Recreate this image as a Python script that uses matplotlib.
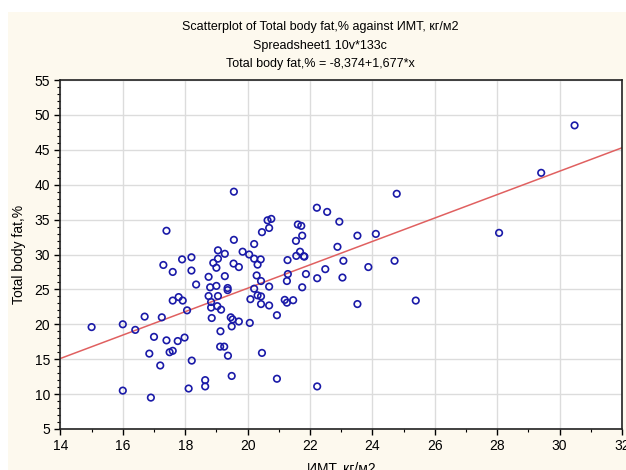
import matplotlib.pyplot as plt
from matplotlib.patches import Rectangle
from matplotlib.ticker import MultipleLocator

# BMI (ИМТ) values
bmi = [15.0, 16.0, 16.0, 16.4, 16.7, 17.25, 17.4, 17.3, 17.6, 17.6,
       17.0, 17.4, 16.85, 17.5, 17.6, 17.2, 16.9, 17.9, 18.2, 18.2,
       18.35, 18.75, 18.8, 19.0, 18.9, 19.0, 19.05, 19.05, 19.27, 19.27,
       19.36, 19.36, 19.55, 19.72, 19.84, 20.05, 20.29, 20.21, 20.09, 20.07,
       18.75, 19.05, 18.83, 18.83, 19.03, 19.15, 18.85, 19.46, 19.52, 19.72,
       19.49, 18.06, 17.79, 17.92, 17.98, 17.76, 18.21, 19.13, 19.12, 19.25,
       19.37, 19.49, 18.64, 18.64, 18.11, 19.56, 19.56, 20.21, 20.46, 20.64,
       20.76, 20.69, 20.21, 20.42, 20.32, 20.43, 20.69, 20.32, 20.43, 20.43,
       20.69, 20.94, 21.28, 21.55, 21.61, 21.72, 21.75, 21.56, 21.68, 21.8,
       21.82, 21.29, 21.26, 21.87, 21.75, 21.19, 21.26, 21.46, 22.22, 22.55,
       22.94, 23.52, 22.88, 23.07, 22.49, 22.23, 23.04, 23.52, 20.46, 20.94,
       22.23, 30.48, 29.41, 28.06, 24.78, 24.11, 23.87, 24.71, 25.39]

# Total body fat, %
body_fat = [19.6, 20.0, 10.5, 19.2, 21.1, 21.0, 33.4, 28.5, 27.5, 23.4,
            18.2, 17.7, 15.8, 16.0, 16.2, 14.1, 9.5, 29.3, 29.6, 27.7,
            25.7, 26.8, 25.3, 25.5, 28.8, 28.1, 29.4, 30.6, 30.1, 26.9,
            25.2, 24.9, 28.7, 28.2, 30.4, 30.0, 27.0, 25.1, 23.6, 20.2,
            24.05, 24.05, 23.2, 22.4, 22.6, 22.1, 20.9, 21.0, 20.7, 20.4,
            19.7, 22.0, 23.9, 23.4, 18.1, 17.6, 14.8, 19.0, 16.8, 16.8,
            15.5, 12.6, 12.0, 11.1, 10.8, 39.0, 32.1, 31.5, 33.2, 34.9,
            35.1, 33.8, 29.4, 29.3, 28.55, 26.2, 25.4, 24.15, 24.0, 22.9,
            22.7, 21.3, 29.2, 31.95, 34.3, 34.1, 32.7, 29.8, 30.4, 29.75,
            29.7, 27.2, 26.2, 27.2, 25.3, 23.5, 23.1, 23.45, 36.7, 36.1,
            34.7, 32.7, 31.1, 29.1, 27.9, 26.6, 26.7, 22.9, 15.9, 12.2,
            11.1, 48.5, 41.7, 33.1, 38.7, 32.95, 28.2, 29.1, 23.4]

# regression: Total body fat,% = -8,374+1,677*x
intercept = -8.374
slope = 1.677

plt.rcParams['font.family'] = ['Liberation Sans Narrow', 'Liberation Sans', 'DejaVu Sans']

fig = plt.figure(figsize=(6.26, 4.70), dpi=100)
fig.patch.set_facecolor('white')
# beige panel behind the plot
fig.patches.append(Rectangle((8 / 626, 0), 1, 1 - 12 / 470, transform=fig.transFigure,
                             facecolor='#fdf9ee', edgecolor='none', zorder=-5))

ax = fig.add_axes([60.4 / 626, 1 - 429 / 470, (622 - 60.4) / 626, (429 - 80) / 470])
ax.set_zorder(1)
ax.set_facecolor('white')

xs = [14, 32]
ax.plot(xs, [intercept + slope * x for x in xs], color='#e06060', linewidth=1.1, zorder=2)
ax.scatter(bmi, body_fat, s=22, facecolors='none', edgecolors='#1a1aa8', linewidths=1.2, zorder=3)

ax.set_xlim(14, 32)
ax.set_ylim(5, 55)
ax.xaxis.set_major_locator(MultipleLocator(2))
ax.xaxis.set_minor_locator(MultipleLocator(1))
ax.yaxis.set_major_locator(MultipleLocator(5))
ax.yaxis.set_minor_locator(MultipleLocator(1))
ax.grid(True, which='major', color='#dcdcdc', linewidth=1.0, zorder=0)
ax.set_axisbelow(True)
ax.tick_params(which='major', length=4, width=1, labelsize=10, direction='out')
ax.tick_params(which='minor', length=2, width=0.8, direction='out')
for s in ax.spines.values():
    s.set_color('#222222')
    s.set_linewidth(1.2)

ax.set_xlabel('ИМТ, кг/м2', fontsize=10, labelpad=6)
ax.set_ylabel('Total body fat,%', fontsize=10, labelpad=6)

cx = 320 / 626
fig.text(cx, 1 - 27 / 470, 'Scatterplot of Total body fat,% against ИМТ, кг/м2',
         ha='center', va='center', fontsize=9)
fig.text(cx, 1 - 46 / 470, 'Spreadsheet1 10v*133c',
         ha='center', va='center', fontsize=9)
fig.text(cx, 1 - 64 / 470, 'Total body fat,% = -8,374+1,677*x',
         ha='center', va='center', fontsize=9)

fig.savefig('out.png', dpi=100, facecolor=fig.get_facecolor())
